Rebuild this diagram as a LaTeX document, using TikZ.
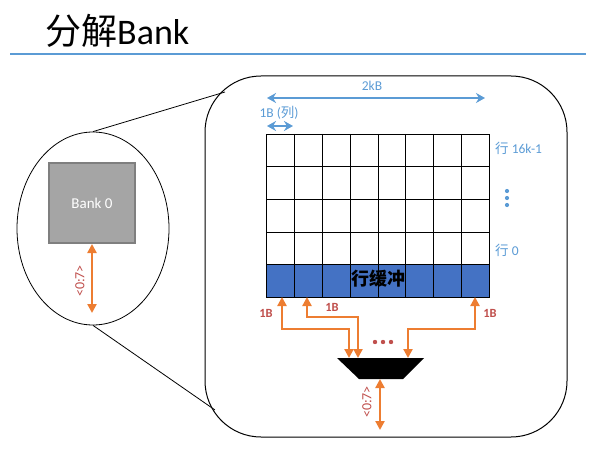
\documentclass[tikz,border=0pt]{standalone}
\usepackage{fontspec}
\setmainfont{Carlito}
\newfontfamily\cjk{Noto Sans CJK SC}
\usetikzlibrary{arrows.meta,shapes.geometric,calc}
\definecolor{ttlblue}{HTML}{5B9BD5}
\definecolor{lblue}{HTML}{5B9BD5}
\definecolor{bufblue}{HTML}{4472C4}
\definecolor{orng}{HTML}{ED7D31}
\definecolor{redtxt}{HTML}{C0504D}
\definecolor{gfill}{HTML}{A5A5A5}
\definecolor{gline}{HTML}{7F7F7F}
\tikzset{
  oarrow/.style={draw=orng, line width=2.8pt, {Triangle[length=9pt,width=9pt]}-{Triangle[length=9pt,width=9pt]}},
  barrow/.style={draw=lblue, line width=2.2pt, {Stealth[length=9pt,width=10pt]}-{Stealth[length=9pt,width=10pt]}},
  bluelbl/.style={text=lblue, font=\fontsize{13.5}{15}\selectfont, inner sep=0},
  redlbl/.style={text=redtxt, font=\bfseries\fontsize{12.5}{14}\selectfont, inner sep=0},
  buslbl/.style={text=redtxt, font=\fontsize{14}{15}\selectfont, inner sep=0, rotate=90},
  thin line/.style={line width=0.8pt},
}
\begin{document}
\begin{tikzpicture}[x=1pt,y=-1pt]
\useasboundingbox (0,0) rectangle (604,449);
% title
\node[anchor=base west, inner sep=0, font=\fontsize{36}{36}\selectfont] (title) at (45,45) {{\cjk 分解}Bank};
\draw[ttlblue, line width=1.2pt] (10,54) -- (586,54);
% zoom ellipse and detail box
\node[ellipse, draw, thin line, minimum width=152, minimum height=193, inner sep=0] (zoomell) at (93,228.5) {};
\node[draw, line width=1pt, rounded corners=56, minimum width=362, minimum height=361, inner sep=0] (detail) at (386,256.5) {};
\coordinate (ctop) at (225,92);
\coordinate (cbot) at (215,410);
\draw[thin line] (zoomell.north) -- (ctop);
\draw[thin line] (zoomell.south) -- (cbot);
% bank
\node[fill=gfill, draw=gline, line width=2pt, minimum width=86, minimum height=80, inner sep=0, text=white, font=\fontsize{15}{17}\selectfont] (bank) at (92,203) {Bank 0};
\coordinate (bankout) at (92,313);
\draw[oarrow] (bank.south) -- (bankout);
\node[buslbl] (bankbus) at (80,281) {<0:7>};
% grid
\node[draw, thin line, minimum width=223, minimum height=130.4, inner sep=0, anchor=north west] (grid) at (266,134) {};
\node[draw, fill=bufblue, thin line, minimum width=223, minimum height=32.6, inner sep=0, anchor=north west] (buf) at (266,264.4) {};
\foreach \i in {1,...,7}
  \draw[thin line] ($(grid.north west)!\i/8!(grid.north east)$) -- ($(buf.south west)!\i/8!(buf.south east)$);
\foreach \j in {1,2,3}
  \draw[thin line] ($(grid.north west)!\j/4!(grid.south west)$) -- ($(grid.north east)!\j/4!(grid.south east)$);
\node[inner sep=0, font=\cjk\bfseries\fontsize{18}{18}\selectfont] (buftxt) at (378,279) {行缓冲};
% width arrows
\coordinate (wl) at (267,98);
\coordinate (wr) at (485,98);
\draw[barrow] (wl) -- (wr);
\node[bluelbl] (wlbl) at (372,86) {2kB};
\coordinate (cl) at (267,126);
\coordinate (cr) at (293,126);
\draw[barrow] (cl) -- (cr);
\node[bluelbl] (clbl) at (279,113) {1B ({\cjk 列})};
% row labels
\node[bluelbl, anchor=west] (rtop) at (495,148) {{\cjk 行} 16k-1};
\node[bluelbl, anchor=west] (rbot) at (495,250) {{\cjk 行} 0};
\foreach \y in {191,198,205} \fill[lblue] (507,\y) circle (2.1);
% mux
\fill (337,358) -- (424,358) -- (403,379) -- (359,379) -- cycle;
\coordinate (m1) at (349,358);
\coordinate (m2) at (358,358);
\coordinate (m3) at (408,358);
\coordinate (mo) at (380,379);
\coordinate (mout) at (380,430);
\coordinate (c1) at (282,297);
\coordinate (c2) at (307,297);
\coordinate (c3) at (475,297);
\draw[oarrow] (c1) -- ++(0,32) -| (m1);
\draw[oarrow] (c2) -- ++(0,20) -| (m2);
\draw[oarrow] (c3) -- ++(0,32) -| (m3);
\draw[oarrow] (mo) -- (mout);
\node[buslbl] (muxbus) at (367,402) {<0:7>};
\foreach \x in {375,383,391} \fill[redtxt] (\x,342) circle (2.2);
\node[redlbl] (l1) at (266,313) {1B};
\node[redlbl] (l2) at (332,307) {1B};
\node[redlbl] (l3) at (490,313) {1B};
\end{tikzpicture}
\end{document}
